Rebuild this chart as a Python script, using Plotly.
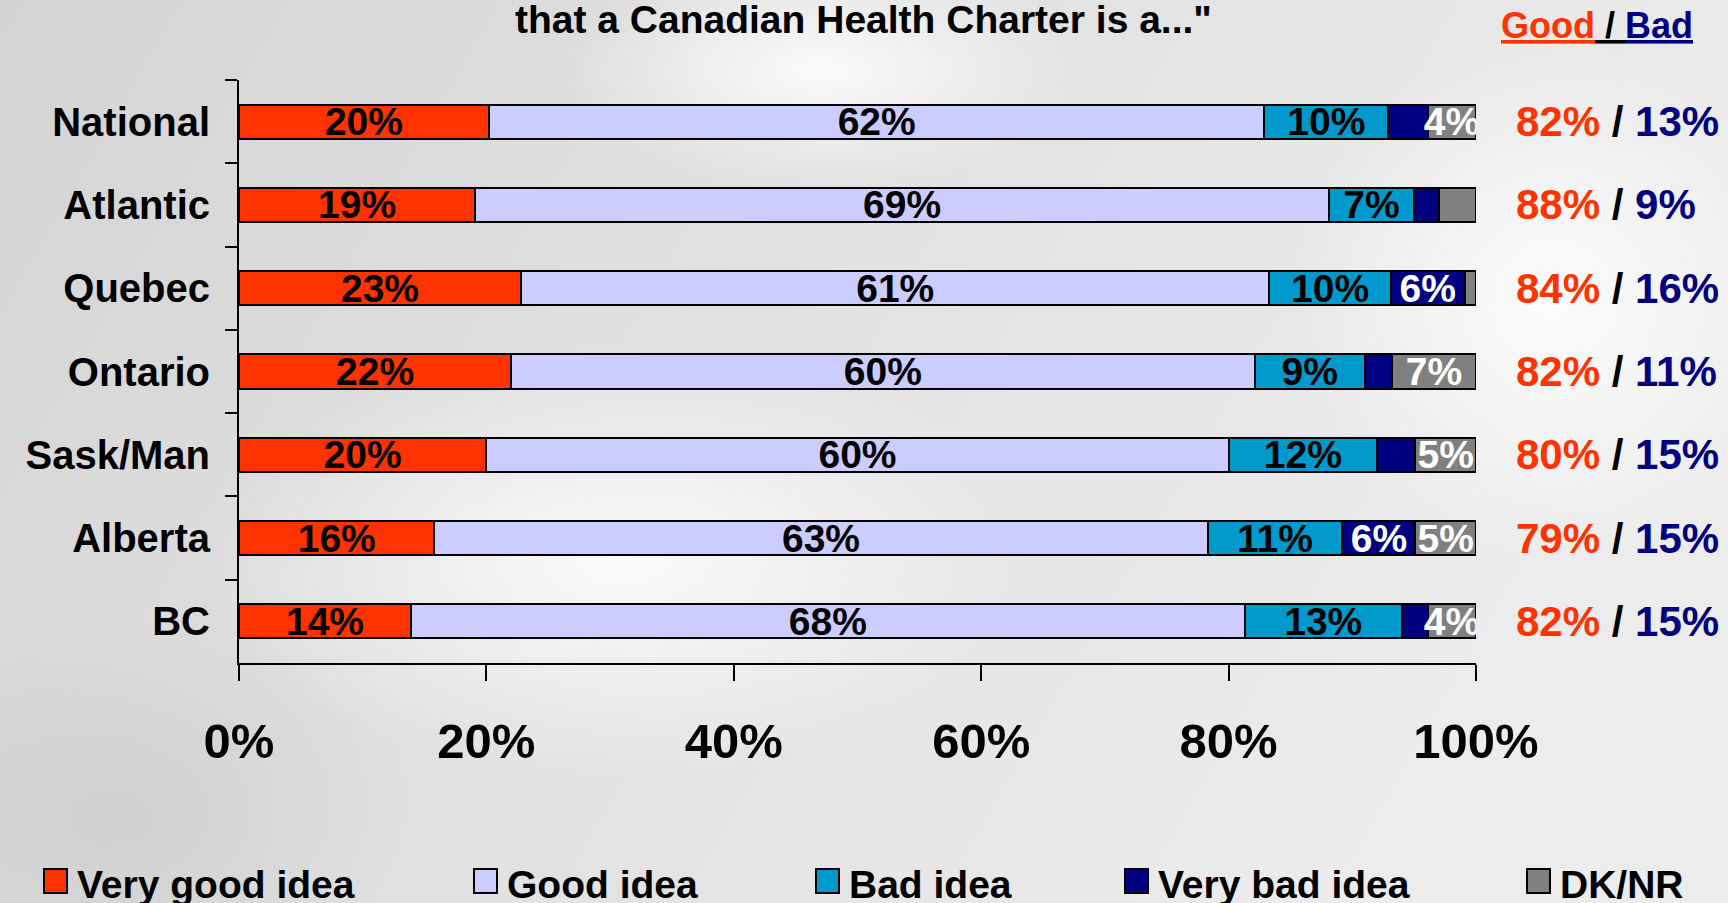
import base64
import plotly.graph_objects as go

# Regions, top to bottom
regions = ["National", "Atlantic", "Quebec", "Ontario", "Sask/Man", "Alberta", "BC"]

# Segment widths (%)
very_good = [20.2, 19.1, 22.8, 22.0, 20.0, 15.8, 13.9]
good = [62.7, 69.0, 60.5, 60.1, 60.0, 62.5, 67.4]
bad = [10.0, 6.9, 9.8, 8.9, 12.0, 10.9, 12.7]
very_bad = [3.2, 2.0, 6.0, 2.2, 3.1, 5.9, 2.1]
dk_nr = [3.9, 3.0, 0.9, 6.8, 4.9, 4.9, 3.9]

# Labels printed on the segments ('' = not shown)
very_good_lbl = ["20%", "19%", "23%", "22%", "20%", "16%", "14%"]
good_lbl = ["62%", "69%", "61%", "60%", "60%", "63%", "68%"]
bad_lbl = ["10%", "7%", "10%", "9%", "12%", "11%", "13%"]
very_bad_lbl = ["", "", "6%", "", "", "6%", ""]
dk_nr_lbl = ["4%", "", "", "7%", "5%", "5%", "4%"]

# Net Good / Bad on the right
good_total = ["82%", "88%", "84%", "82%", "80%", "79%", "82%"]
bad_total = ["13%", "9%", "16%", "11%", "15%", "15%", "15%"]

x_ticks = [0, 20, 40, 60, 80, 100]
x_tick_labels = ["0%", "20%", "40%", "60%", "80%", "100%"]

series = [
    ("Very good idea", very_good, very_good_lbl, "#FF3300", "black"),
    ("Good idea", good, good_lbl, "#CCCCFF", "black"),
    ("Bad idea", bad, bad_lbl, "#0099CC", "black"),
    ("Very bad idea", very_bad, very_bad_lbl, "#000080", "white"),
    ("DK/NR", dk_nr, dk_nr_lbl, "#808080", "white"),
]

FONT = "Liberation Sans, Arial, sans-serif"
RED = "#FF3300"
NAVY = "#000080"

# plot area in pixels (used to place the free-standing texts)
L, R, T, B = 239, 252, 80, 240
W, H = 1728 - L - R, 903 - T - B

# soft grey backdrop, roughly like the slide background
bg_svg = """<svg xmlns='http://www.w3.org/2000/svg' width='1728' height='903'>
<defs>
<linearGradient id='g' x1='0' x2='1' y1='0' y2='0.3'>
<stop offset='0' stop-color='#d4d4d4'/><stop offset='0.45' stop-color='#e0e0e0'/>
<stop offset='1' stop-color='#ececec'/></linearGradient>
<radialGradient id='w'><stop offset='0' stop-color='#ffffff' stop-opacity='0.85'/>
<stop offset='1' stop-color='#ffffff' stop-opacity='0'/></radialGradient>
<radialGradient id='d'><stop offset='0' stop-color='#b8b8b8' stop-opacity='0.35'/>
<stop offset='1' stop-color='#b8b8b8' stop-opacity='0'/></radialGradient>
</defs>
<rect width='1728' height='903' fill='url(#g)'/>
<ellipse cx='620' cy='560' rx='420' ry='220' fill='url(#w)'/>
<ellipse cx='820' cy='70' rx='260' ry='120' fill='url(#w)'/>
<ellipse cx='1550' cy='300' rx='260' ry='260' fill='url(#w)'/>
<ellipse cx='120' cy='820' rx='300' ry='200' fill='url(#d)'/>
</svg>"""
bg_uri = "data:image/svg+xml;base64," + base64.b64encode(bg_svg.encode()).decode()

fig = go.Figure()
for name, vals, lbls, color, tcolor in series:
    fig.add_trace(go.Bar(
        y=regions, x=vals, name=name, orientation="h",
        marker=dict(color=color, line=dict(color="black", width=2)),
        text=lbls, textposition="inside", insidetextanchor="middle",
        textangle=0, constraintext="none",
        textfont=dict(color=tcolor, size=39, family=FONT, weight="bold"),
        showlegend=False, hoverinfo="skip",
    ))

# net good / bad
for reg, g, b in zip(regions, good_total, bad_total):
    fig.add_annotation(
        x=(1514 - L) / W, xref="paper", y=reg, yref="y",
        xanchor="left", yanchor="middle",
        text=f"<span style='color:{RED}'>{g}</span> / <span style='color:{NAVY}'>{b}</span>",
        showarrow=False, font=dict(size=42, color="black", family=FONT, weight="bold"),
    )

# title (first line cut off in the original)
fig.add_annotation(
    x=0.505, xref="paper", y=1 + (T - 20) / H, yref="paper",
    xanchor="center", yanchor="middle", borderpad=0,
    text='that a Canadian Health Charter is a..."', showarrow=False,
    font=dict(size=39, color="black", family=FONT, weight="bold"),
)
fig.add_annotation(
    x=(1499 - L) / W, xref="paper", y=1 + (T - 25) / H, yref="paper",
    xanchor="left", yanchor="middle",
    text=(f"<span style='color:{RED}'><u>Good</u></span><u> / </u>"
          f"<span style='color:{NAVY}'><u>Bad</u></span>"),
    showarrow=False, font=dict(size=36, color="black", family=FONT, weight="bold"),
)

# legend drawn by hand to keep the original spacing
legend_px = [44, 474, 816, 1125, 1527]
leg_y = 881
for (name, _, _, color, _), px in zip(series, legend_px):
    x0 = (px - L) / W
    fig.add_shape(
        type="rect", xref="paper", yref="paper",
        x0=x0, x1=x0 + 23 / W,
        y0=(T + H - leg_y - 12) / H, y1=(T + H - leg_y + 12) / H,
        fillcolor=color, line=dict(color="black", width=2),
    )
    fig.add_annotation(
        x=(px + 32 - L) / W, xref="paper", y=(T + H - leg_y - 3) / H, yref="paper",
        xanchor="left", yanchor="middle", borderpad=0, text=name, showarrow=False,
        font=dict(size=39, color="black", family=FONT, weight="bold"),
    )

fig.add_layout_image(
    source=bg_uri, xref="paper", yref="paper",
    x=-L / W, y=1 + T / H, sizex=1728 / W, sizey=903 / H,
    sizing="stretch", layer="below",
)

fig.update_layout(
    barmode="stack", bargap=0.59,
    width=1728, height=903,
    margin=dict(l=L, r=R, t=T, b=B),
    paper_bgcolor="#e2e2e2", plot_bgcolor="rgba(0,0,0,0)",
    font=dict(family=FONT, color="black", weight="bold"),
    xaxis=dict(
        range=[0, 100], tickvals=x_ticks, ticktext=x_tick_labels,
        showgrid=False, zeroline=False, showline=True, linecolor="black", linewidth=2,
        ticks="outside", ticklen=16, tickwidth=2, tickcolor="black",
        tickfont=dict(size=49), ticklabelstandoff=18,
    ),
    yaxis=dict(
        type="category", categoryorder="array", categoryarray=regions,
        autorange="reversed", tickson="boundaries",
        showgrid=False, zeroline=False, showline=True, linecolor="black", linewidth=2,
        ticks="outside", ticklen=12, tickwidth=2, tickcolor="black",
        tickfont=dict(size=40), ticklabelstandoff=19,
    ),
)

fig.write_html("out.html", config={"displayModeBar": False},
               post_script="document.body.style.margin='0';")
